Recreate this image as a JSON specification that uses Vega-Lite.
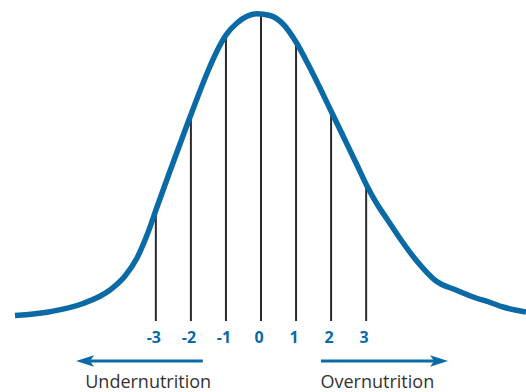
{
  "$schema": "https://vega.github.io/schema/vega-lite/v6.json",
  "width": 526,
  "height": 392,
  "autosize": "none",
  "padding": 0,
  "background": "#ffffff",
  "config": {"view": {"stroke": null}},
  "datasets": {
    "curve": [
      {"z": -7.019, "freq": 5.5},
      {"z": -6.02, "freq": 9.3},
      {"z": -5.078, "freq": 17.5},
      {"z": -4.308, "freq": 31},
      {"z": -3.88, "freq": 45},
      {"z": -3.538, "freq": 63},
      {"z": -3.252, "freq": 86},
      {"z": -2.967, "freq": 114},
      {"z": -2.596, "freq": 150},
      {"z": -2.111, "freq": 196},
      {"z": -1.797, "freq": 225},
      {"z": -1.512, "freq": 250},
      {"z": -1.255, "freq": 270},
      {"z": -0.999, "freq": 286},
      {"z": -0.685, "freq": 298},
      {"z": -0.4, "freq": 304.7},
      {"z": -0.114, "freq": 307.3},
      {"z": 0.257, "freq": 305.5},
      {"z": 0.628, "freq": 297},
      {"z": 0.999, "freq": 279},
      {"z": 1.341, "freq": 257},
      {"z": 1.683, "freq": 233},
      {"z": 2.026, "freq": 208},
      {"z": 2.397, "freq": 181},
      {"z": 2.739, "freq": 156},
      {"z": 3.024, "freq": 135},
      {"z": 3.31, "freq": 117},
      {"z": 3.595, "freq": 102},
      {"z": 3.937, "freq": 84},
      {"z": 4.422, "freq": 61},
      {"z": 4.993, "freq": 40},
      {"z": 5.563, "freq": 31},
      {"z": 6.134, "freq": 23},
      {"z": 6.505, "freq": 19},
      {"z": 6.904, "freq": 14},
      {"z": 7.561, "freq": 9}
    ],
    "sd": [
      {"z": -3, "top": 111, "label": "-3"},
      {"z": -2, "top": 206, "label": "-2"},
      {"z": -1, "top": 286, "label": "-1"},
      {"z": 0, "top": 307, "label": "0"},
      {"z": 1, "top": 279, "label": "1"},
      {"z": 2, "top": 210, "label": "2"},
      {"z": 3, "top": 137, "label": "3"}
    ],
    "arrows": [
      {"dir": "left", "from": -1.66, "to": -4.95, "head": -5.02, "caption": "Undernutrition", "cx": -3.22},
      {"dir": "right", "from": 1.71, "to": 5.0, "head": 5.08, "caption": "Overnutrition", "cx": 3.32}
    ]
  },
  "layer": [
    {
      "data": {"name": "sd"},
      "mark": {"type": "rule", "color": "#2a2a2a", "strokeWidth": 2},
      "encoding": {
        "x": {"field": "z", "type": "quantitative", "scale": {"domain": [-7.4465, 7.5606], "nice": false, "zero": false}, "axis": null},
        "y": {"field": "top", "type": "quantitative", "scale": {"domain": [-71, 321], "nice": false, "zero": false}, "axis": null},
        "y2": {"datum": 0}
      }
    },
    {
      "data": {"name": "curve"},
      "mark": {"type": "line", "color": "#0a6aa6", "strokeWidth": 5.5, "interpolate": "monotone", "strokeCap": "butt"},
      "encoding": {
        "x": {"field": "z", "type": "quantitative"},
        "y": {"field": "freq", "type": "quantitative"}
      }
    },
    {
      "data": {"name": "sd"},
      "mark": {"type": "text", "color": "#0a6aa6", "font": "Open Sans", "fontWeight": "bold", "fontSize": 16, "baseline": "alphabetic", "align": "center", "dx": -2},
      "encoding": {
        "x": {"field": "z", "type": "quantitative"},
        "y": {"datum": -22},
        "text": {"field": "label"}
      }
    },
    {
      "data": {"name": "arrows"},
      "mark": {"type": "rule", "color": "#0a6aa6", "strokeWidth": 3},
      "encoding": {
        "x": {"field": "from", "type": "quantitative"},
        "x2": {"field": "to"},
        "y": {"datum": -40}
      }
    },
    {
      "data": {"name": "arrows"},
      "mark": {"type": "point", "filled": true, "opacity": 1, "color": "#0a6aa6", "size": 324, "strokeWidth": 0},
      "encoding": {
        "x": {"field": "head", "type": "quantitative"},
        "y": {"datum": -40},
        "shape": {"field": "dir", "type": "nominal", "legend": null, "scale": {"domain": ["left", "right"], "range": ["M -1 0 L 1 -0.65 L 0.55 0 L 1 0.65 Z", "M 1 0 L -1 -0.65 L -0.55 0 L -1 0.65 Z"]}}
      }
    },
    {
      "data": {"name": "arrows"},
      "mark": {"type": "text", "color": "#333333", "font": "Open Sans", "fontSize": 18, "baseline": "alphabetic", "align": "center"},
      "encoding": {
        "x": {"field": "cx", "type": "quantitative"},
        "y": {"datum": -67},
        "text": {"field": "caption"}
      }
    }
  ]
}
